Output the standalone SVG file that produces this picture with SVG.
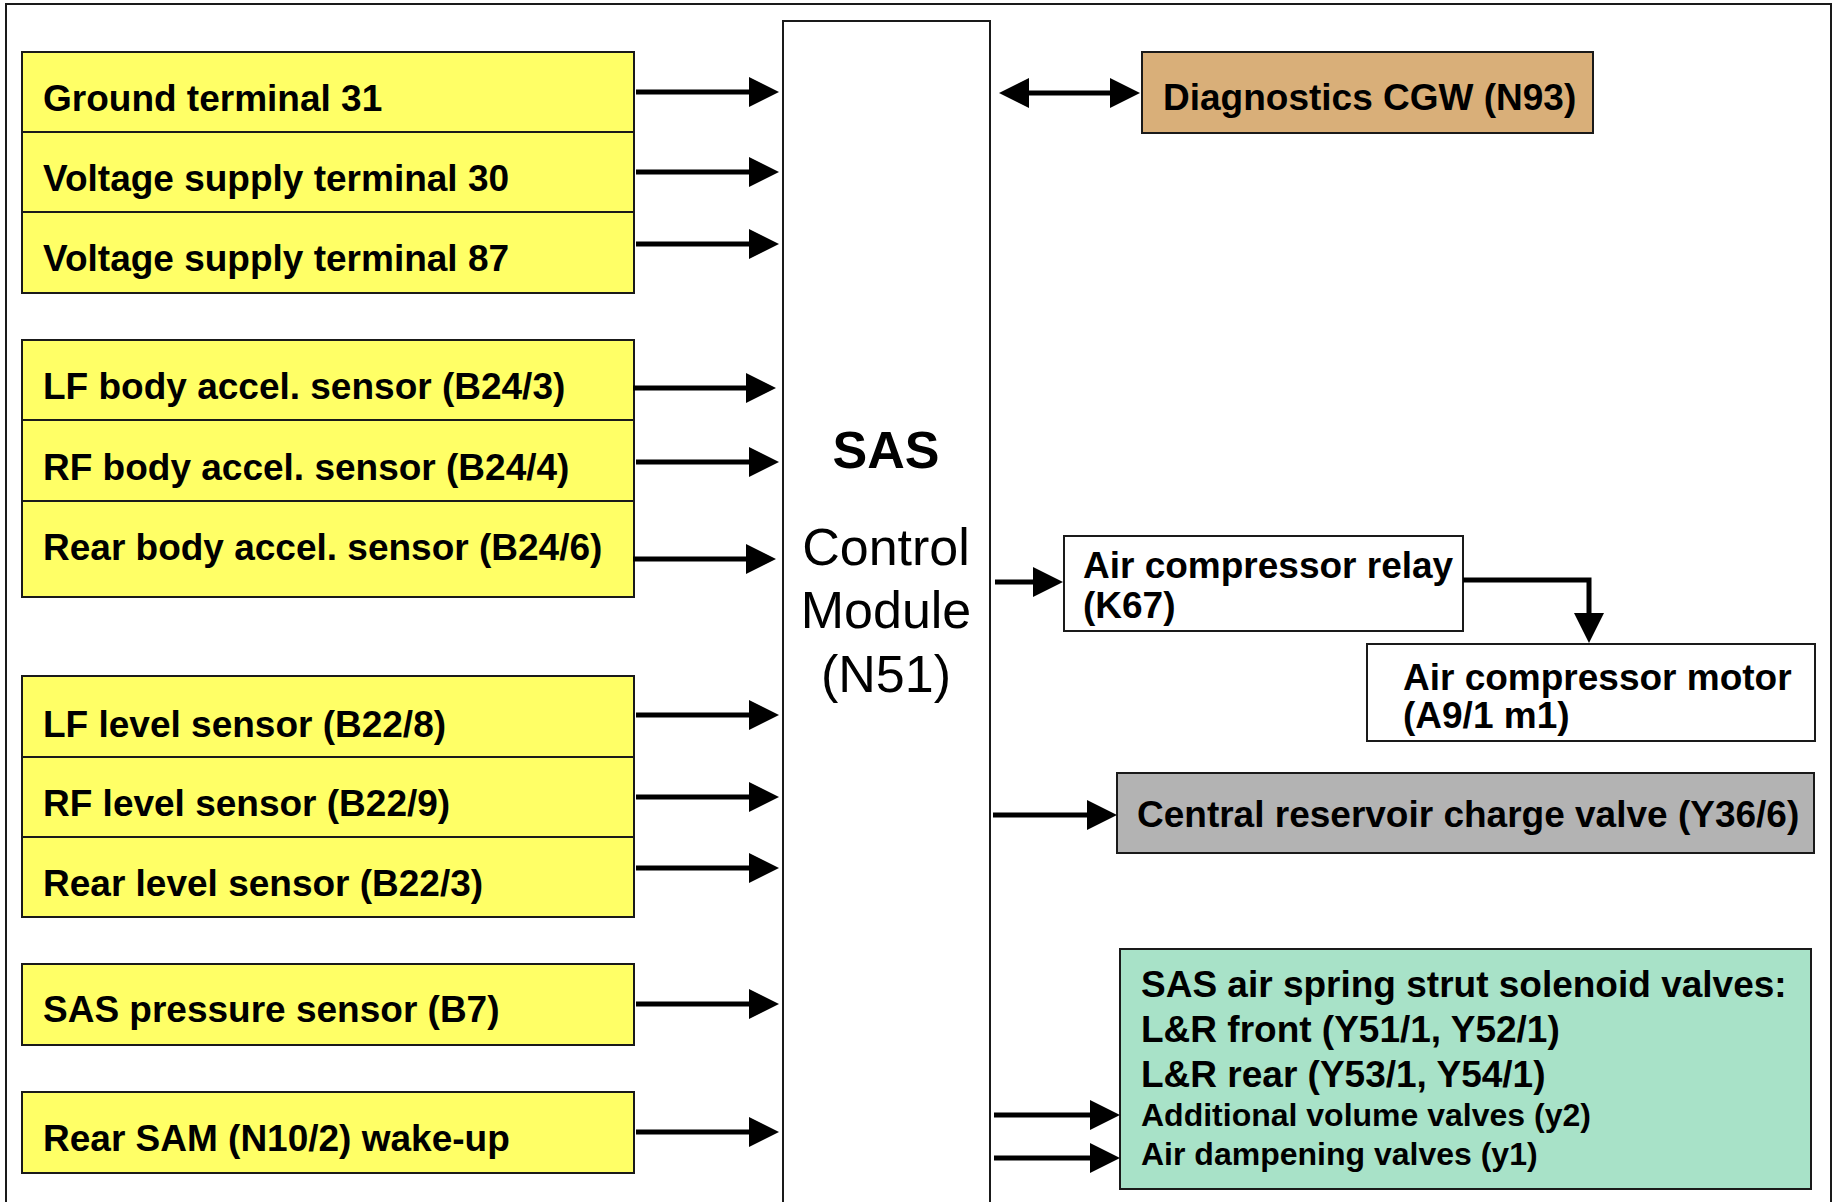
<svg xmlns="http://www.w3.org/2000/svg" width="1834" height="1202" viewBox="0 0 1834 1202">
<style>
  text { font-family: "Liberation Sans", Arial, sans-serif; fill: #000; }
  .b { font-weight: bold; font-size: 37px; }
  .s { font-weight: bold; font-size: 32px; }
  .yel { fill: #FFFF66; stroke: #1a1a1a; stroke-width: 2; }
  .box { stroke: #1a1a1a; stroke-width: 2; }
  .conn path { fill: none; stroke: #000; stroke-width: 5; }
  .mod1 { font-weight: bold; font-size: 52px; }
  .mod2 { font-size: 52px; }
</style>
<defs>
  <marker id="ah" markerUnits="userSpaceOnUse" markerWidth="30" markerHeight="30" refX="1" refY="15" orient="auto-start-reverse" viewBox="0 0 30 30">
    <path d="M0,0 L30,15 L0,30 z" fill="#000"/>
  </marker>
</defs>
<rect x="0" y="0" width="1834" height="1202" fill="#fff"/>
<rect id="frame" x="6" y="4" width="1825" height="1220" fill="none" stroke="#1a1a1a" stroke-width="2"/>

<g id="module">
  <rect x="783" y="21" width="207" height="1200" fill="#fff" stroke="#1a1a1a" stroke-width="2"/>
  <text class="mod1" x="886" y="468" text-anchor="middle">SAS</text>
  <text class="mod2" x="886" y="565" text-anchor="middle">Control</text>
  <text class="mod2" x="886" y="628" text-anchor="middle">Module</text>
  <text class="mod2" x="886" y="692" text-anchor="middle">(N51)</text>
</g>

<g id="ground31"><rect class="yel" x="22" y="52" width="612" height="80"/><text class="b" x="43" y="111">Ground terminal 31</text></g>
<g id="volt30"><rect class="yel" x="22" y="132" width="612" height="80"/><text class="b" x="43" y="191">Voltage supply terminal 30</text></g>
<g id="volt87"><rect class="yel" x="22" y="212" width="612" height="81"/><text class="b" x="43" y="271">Voltage supply terminal 87</text></g>

<g id="lfbody"><rect class="yel" x="22" y="340" width="612" height="80"/><text class="b" x="43" y="399">LF body accel. sensor (B24/3)</text></g>
<g id="rfbody"><rect class="yel" x="22" y="420" width="612" height="81"/><text class="b" x="43" y="480">RF body accel. sensor (B24/4)</text></g>
<g id="rearbody"><rect class="yel" x="22" y="501" width="612" height="96"/><text class="b" x="43" y="560">Rear body accel. sensor (B24/6)</text></g>

<g id="lflevel"><rect class="yel" x="22" y="676" width="612" height="81"/><text class="b" x="43" y="737">LF level sensor (B22/8)</text></g>
<g id="rflevel"><rect class="yel" x="22" y="757" width="612" height="80"/><text class="b" x="43" y="816">RF level sensor (B22/9)</text></g>
<g id="rearlevel"><rect class="yel" x="22" y="837" width="612" height="80"/><text class="b" x="43" y="896">Rear level sensor (B22/3)</text></g>

<g id="pressure"><rect class="yel" x="22" y="964" width="612" height="81"/><text class="b" x="43" y="1022">SAS pressure sensor (B7)</text></g>
<g id="rearsam"><rect class="yel" x="22" y="1092" width="612" height="81"/><text class="b" x="43" y="1151">Rear SAM (N10/2) wake-up</text></g>

<g id="diag"><rect class="box" x="1142" y="52" width="451" height="81" fill="#D9AF79"/><text class="b" x="1163" y="110">Diagnostics CGW (N93)</text></g>

<g id="relay"><rect class="box" x="1064" y="536" width="399" height="95" fill="#fff"/><text class="b" x="1083" y="578">Air compressor relay</text><text class="b" x="1083" y="618">(K67)</text></g>

<g id="motor"><rect class="box" x="1367" y="644" width="448" height="97" fill="#fff"/><text class="b" x="1403" y="690">Air compressor motor</text><text class="b" x="1403" y="728">(A9/1 m1)</text></g>

<g id="reservoir"><rect class="box" x="1117" y="773" width="697" height="80" fill="#B3B3B3"/><text class="b" x="1137" y="827">Central reservoir charge valve (Y36/6)</text></g>

<g id="valves"><rect class="box" x="1120" y="949" width="691" height="240" fill="#A8E2C8"/>
  <text class="b" x="1141" y="997">SAS air spring strut solenoid valves:</text>
  <text class="b" x="1141" y="1042">L&amp;R front (Y51/1, Y52/1)</text>
  <text class="b" x="1141" y="1087">L&amp;R rear (Y53/1, Y54/1)</text>
  <text class="s" x="1141" y="1126">Additional volume valves (y2)</text>
  <text class="s" x="1141" y="1165">Air dampening valves (y1)</text>
</g>

<g id="connectors" class="conn">
  <path d="M636,92 H750" marker-end="url(#ah)"/>
  <path d="M636,172 H750" marker-end="url(#ah)"/>
  <path d="M636,244 H750" marker-end="url(#ah)"/>
  <path d="M633,388 H747" marker-end="url(#ah)"/>
  <path d="M636,462 H750" marker-end="url(#ah)"/>
  <path d="M633,559 H747" marker-end="url(#ah)"/>
  <path d="M636,715 H750" marker-end="url(#ah)"/>
  <path d="M636,797 H750" marker-end="url(#ah)"/>
  <path d="M636,868 H750" marker-end="url(#ah)"/>
  <path d="M636,1004 H750" marker-end="url(#ah)"/>
  <path d="M636,1132 H750" marker-end="url(#ah)"/>
  <path d="M1028,93 H1111" marker-start="url(#ah)" marker-end="url(#ah)"/>
  <path d="M995,582 H1034" marker-end="url(#ah)"/>
  <path d="M1463,580 H1589 V614" marker-end="url(#ah)"/>
  <path d="M993,815 H1088" marker-end="url(#ah)"/>
  <path d="M994,1115 H1091" marker-end="url(#ah)"/>
  <path d="M994,1158 H1091" marker-end="url(#ah)"/>
</g>
</svg>
